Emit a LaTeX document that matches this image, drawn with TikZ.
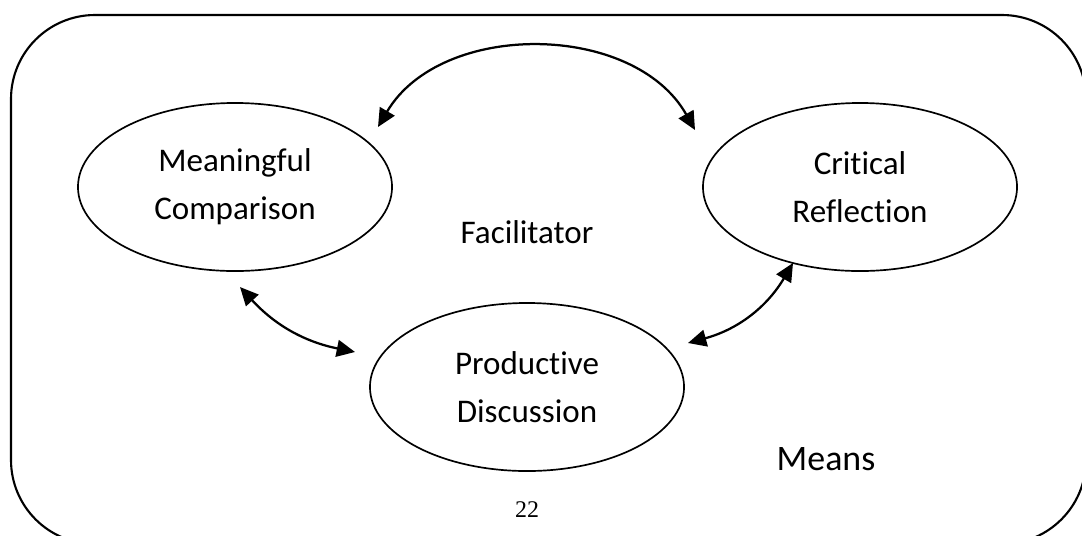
\documentclass[tikz,border=0pt]{standalone}
\usepackage{fontspec}
\setmainfont{Carlito}[Ligatures=NoCommon]
\newfontfamily\pagenumfont{Liberation Serif}
\usetikzlibrary{shapes.geometric,arrows.meta}

\tikzset{
  stage/.style={draw, line width=1.2pt, ellipse, minimum width=7.85cm, minimum height=4.2cm,
    inner sep=0pt, align=center, font=\fontsize{23.5}{34}\selectfont},
  link/.style={line width=1.6pt, {Triangle[length=13pt,width=12pt]}-{Triangle[length=13pt,width=12pt]}}
}

\begin{document}
\begin{tikzpicture}[x=0.025cm, y=-0.025cm]
  \useasboundingbox (0,0) rectangle (1082,535);
  % Outer frame
  \draw[line width=1.5pt, rounded corners=2.1cm] (11,15) rectangle (1086,544);
  % Three stages
  \node[stage] (mc) at (235,187) {Meaningful\\Comparison};
  \node[stage] (cr) at (860,187) {Critical\\Reflection};
  \node[stage] (pd) at (527,387) {Productive\\Discussion};
  % Labels
  \node[anchor=base, font=\fontsize{23.5}{28}\selectfont] (fac) at (527,243) {Facilitator};
  \node[anchor=base, font=\fontsize{25.5}{30}\selectfont] (means) at (826,470) {Means};
  \node[anchor=base, font=\pagenumfont\fontsize{17}{19}\selectfont] (pg) at (527,517) {22};
  % Arrow ends
  \coordinate (mcT) at (378,127);
  \coordinate (crT) at (695,130);
  \coordinate (mcB) at (240,287);
  \coordinate (pdL) at (355,352);
  \coordinate (pdR) at (688,343);
  \coordinate (crB) at (793,263);
  % Two-way links
  \draw[link] (mcT) to[bend left=60] (crT);
  \draw[link] (mcB) to[bend right=18] (pdL);
  \draw[link] (pdR) to[bend right=22] (crB);
\end{tikzpicture}
\end{document}
